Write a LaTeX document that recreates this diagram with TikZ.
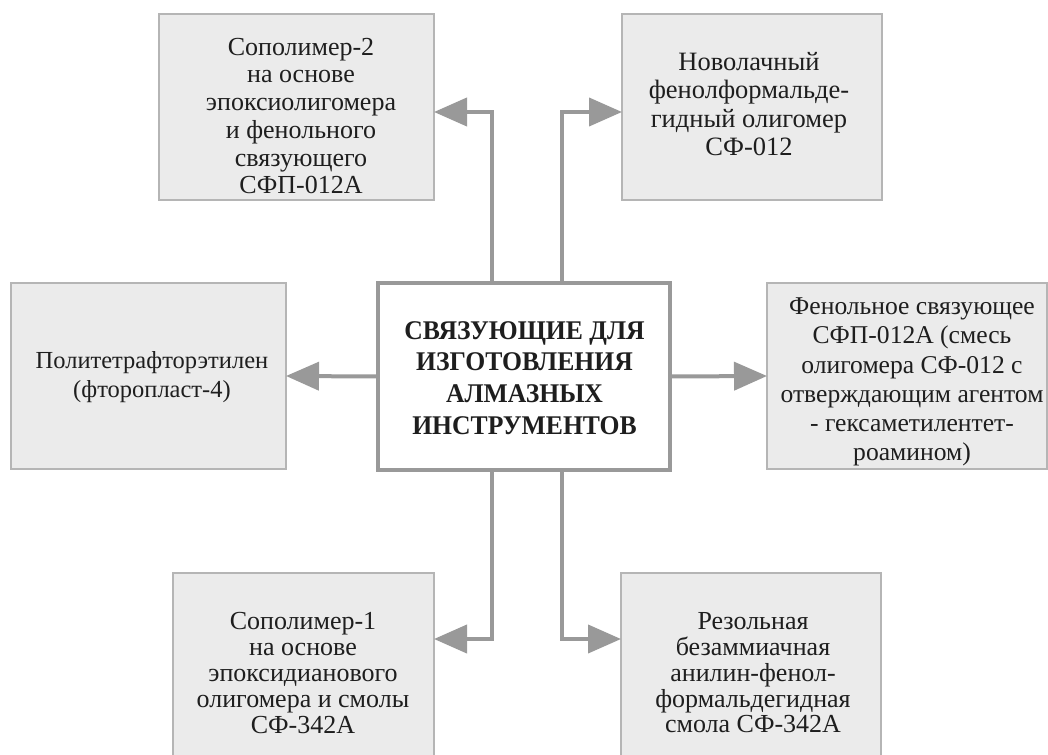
\documentclass[tikz,border=0pt]{standalone}
\usepackage{fontspec}
\setmainfont{Liberation Serif}
\newfontfamily\hubfont[FakeStretch=0.95]{Liberation Serif}
\usetikzlibrary{arrows.meta}
\definecolor{boxfill}{HTML}{EBEBEB}
\definecolor{boxline}{HTML}{B5B5B5}
\definecolor{connc}{HTML}{999999}
\definecolor{txt}{HTML}{1E1E1E}
\begin{document}
\begin{tikzpicture}[x=1pt,y=-1pt,
  leaf/.style={draw=boxline, line width=1.5pt, fill=boxfill, inner sep=0pt, outer sep=0pt},
  lbl/.style={align=center, text=txt, inner sep=0pt, outer sep=0pt},
  hub/.style={draw=connc, line width=4pt, fill=white, inner sep=0pt, outer sep=0pt,
    minimum width=292pt, minimum height=187pt},
  link/.style={draw=connc, line width=4pt,
    -{Triangle[length=33pt,width=28pt,fill=connc]}}]
\useasboundingbox (0,0) rectangle (1048,754);
\clip (0,0) rectangle (1048,754);
\fill[white] (0,0) rectangle (1048,754);

% boxes
\node[leaf, minimum width=275pt, minimum height=186pt] (tl) at (296.5,107) {};
\node[leaf, minimum width=260pt, minimum height=186pt] (tr) at (752,107) {};
\node[leaf, minimum width=275pt, minimum height=186pt] (l) at (148.5,376) {};
\node[leaf, minimum width=280pt, minimum height=186pt] (r) at (907,376) {};
\node[leaf, minimum width=261pt, minimum height=186pt] (bl) at (303.5,666) {};
\node[leaf, minimum width=260pt, minimum height=186pt] (br) at (751,666) {};
\node[hub] (c) at (524,376.5) {};

% texts
\node[lbl, font=\fontsize{26}{27.7}\selectfont] (tlt) at (301,116)
  {Сополимер-2\\на основе\\эпоксиолигомера\\и фенольного\\связующего\\СФП-012А};
\node[lbl, font=\fontsize{26.5}{28.3}\selectfont] (trt) at (749,104)
  {Новолачный\\фенолформальде-\\гидный олигомер\\СФ-012};
\node[lbl, font=\fontsize{24.5}{29}\selectfont] (lt) at (152,377)
  {Политетрафторэтилен\\(фторопласт-4)};
\node[lbl, font=\fontsize{25.6}{29.3}\selectfont] (rt) at (912,382)
  {Фенольное связующее\\СФП-012А (смесь\\олигомера СФ-012 с\\отверждающим агентом\\- гексаметилентет-\\роамином)};
\node[lbl, font=\fontsize{26}{25.8}\selectfont] (blt) at (303,673)
  {Сополимер-1\\на основе\\эпоксидианового\\олигомера и смолы\\СФ-342А};
\node[lbl, font=\fontsize{26}{25.8}\selectfont] (brt) at (753,673)
  {Резольная\\безаммиачная\\анилин-фенол-\\формальдегидная\\смола СФ-342А};
\node[lbl, font=\hubfont\fontsize{27}{31.7}\selectfont\bfseries] (ct) at (524.5,378)
  {СВЯЗУЮЩИЕ ДЛЯ\\ИЗГОТОВЛЕНИЯ\\АЛМАЗНЫХ\\ИНСТРУМЕНТОВ};

% connectors
\coordinate (ja) at (492,112);
\coordinate (jb) at (562,112);
\coordinate (jc) at (492,639);
\coordinate (jd) at (562,639);

\draw[link] (c.north -| ja) |- (tl.east |- ja);
\draw[link] (c.north -| jb) |- (tr.west |- jb);
\draw[link] (c.south -| jc) |- (bl.east |- jc);
\draw[link] (c.south -| jd) |- (br.west |- jd);
\draw[link] (c.west) -- (l.east);
\draw[link] (c.east) -- (r.west);
\end{tikzpicture}
\end{document}
